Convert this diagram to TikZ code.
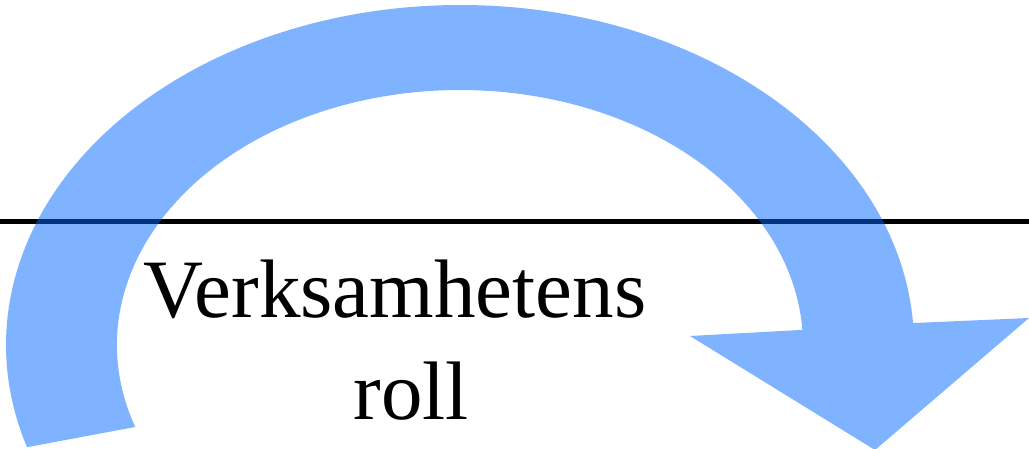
\documentclass[tikz,border=0pt]{standalone}
\usepackage{fontspec}
\setmainfont{Liberation Serif}
\definecolor{arrowblue}{RGB}{0,102,255}
\begin{document}
\begin{tikzpicture}[x=1pt,y=1pt,
  bigarrow/.style={fill=arrowblue,fill opacity=0.5,draw=none},
  hline/.style={line width=5pt,black},
  txt/.style={font=\fontsize{83}{100}\selectfont,inner sep=0pt,anchor=base,text=black}]
\useasboundingbox (0,0) rectangle (1029,448);
\coordinate (L) at (0,226);
\coordinate (R) at (1029,226);
\draw[hline] (L) -- (R);
\coordinate (C) at (460,103);
\coordinate (HR) at (1029,130);
\coordinate (HL) at (690,112);
\coordinate (TIP) at (875,-2);
\fill[bigarrow] (HR) -- ([shift={(C)}]3.7:454pt and 340pt)
  arc[start angle=3.7,end angle=197.5,x radius=454pt,y radius=340pt]
  -- ([shift={(C)}]198.75:343pt and 255pt)
  arc[start angle=198.75,end angle=3.4,x radius=343pt,y radius=255pt]
  -- (HL) -- (TIP) -- cycle;
\node[txt] (t1) at (395,131) {Verksamhetens};
\node[txt] (t2) at (411,29) {roll};
\end{tikzpicture}
\end{document}
